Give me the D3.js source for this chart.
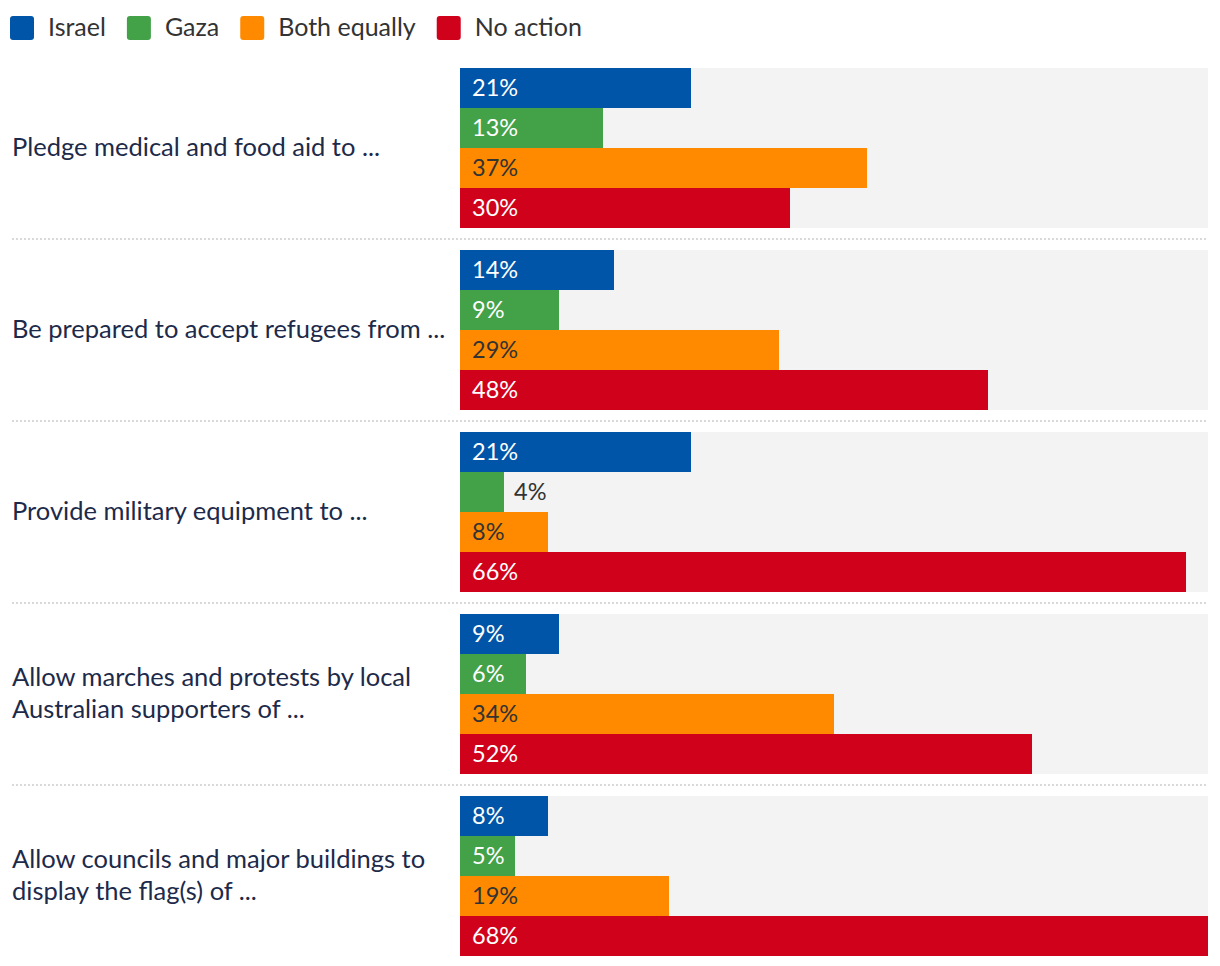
<!DOCTYPE html>
<html><head><meta charset="utf-8">
<script src="https://cdn.jsdelivr.net/npm/d3@7"></script>
<style>
body{margin:0;background:#fff;}
svg text{font-family:"Lato","Noto Sans",sans-serif;}
</style></head>
<body>
<svg id="chart" width="1220" height="966"></svg>
<script>
const categories = [
  ["Pledge medical and food aid to ..."],
  ["Be prepared to accept refugees from ..."],
  ["Provide military equipment to ..."],
  ["Allow marches and protests by local", "Australian supporters of ..."],
  ["Allow councils and major buildings to", "display the flag(s) of ..."]
];
const series = ["Israel", "Gaza", "Both equally", "No action"];
const colors = ["#0055a8", "#43a148", "#ff8a00", "#d0021b"];
const labelColors = ["#ffffff", "#ffffff", "#333333", "#ffffff"];
const israel = [21, 14, 21, 9, 8];
const gaza = [13, 9, 4, 6, 5];
const both = [37, 29, 8, 34, 19];
const noAction = [30, 48, 66, 52, 68];
const values = [israel, gaza, both, noAction];

const svg = d3.select("#chart");
const catKeys = categories.map((c, i) => i);

const x = d3.scaleLinear().domain([0, 68]).range([460, 1208]);
const y = d3.scaleBand().domain(catKeys).range([57, 967]).paddingInner(22/182).paddingOuter(11/182);
const yi = d3.scaleBand().domain(series).range([0, y.bandwidth()]);

// legend
const legend = svg.append("g");
let lx = 10;
series.forEach((s, i) => {
  legend.append("rect").attr("x", lx).attr("y", 16).attr("width", 24).attr("height", 24)
    .attr("rx", 3).attr("fill", colors[i]);
  const t = legend.append("text").attr("x", lx + 38).attr("y", 36)
    .attr("font-size", 25).attr("fill", "#333").text(s);
  lx += 38 + t.node().getComputedTextLength() + 21;
});

const groups = svg.selectAll("g.grp").data(catKeys).join("g").attr("class", "grp")
  .attr("transform", d => `translate(0,${y(d)})`);

// separators
groups.filter(d => d > 0).append("line")
  .attr("x1", 12).attr("x2", 1208)
  .attr("y1", -11).attr("y2", -11)
  .attr("stroke", "#d9d9d9").attr("stroke-width", 2).attr("stroke-dasharray", "2,2");

// background
groups.append("rect").attr("x", x(0)).attr("y", 0)
  .attr("width", x(68) - x(0)).attr("height", y.bandwidth()).attr("fill", "#f3f3f3");

// category labels
groups.each(function(d) {
  const lines = categories[d];
  const g = d3.select(this);
  const mid = y.bandwidth() / 2;
  const lh = 32;
  const t = g.append("text").attr("x", 12).attr("font-size", 25.5).attr("fill", "#1d2a4a");
  lines.forEach((ln, k) => {
    t.append("tspan").attr("x", 12)
      .attr("y", mid + 8 - (lines.length - 1) * lh / 2 + k * lh).text(ln);
  });
});

// bars
groups.each(function(d) {
  const g = d3.select(this);
  series.forEach((s, si) => {
    const v = values[si][d];
    g.append("rect").attr("x", x(0)).attr("y", yi(s))
      .attr("width", x(v) - x(0)).attr("height", yi.bandwidth()).attr("fill", colors[si]);
    const inside = v >= 5;
    g.append("text")
      .attr("x", inside ? x(0) + 12 : x(v) + 10)
      .attr("y", yi(s) + yi.bandwidth() / 2 + 8)
      .attr("font-size", 23.5)
      .attr("fill", inside ? labelColors[si] : "#333")
      .text(v + "%");
  });
});
</script>
</body></html>
